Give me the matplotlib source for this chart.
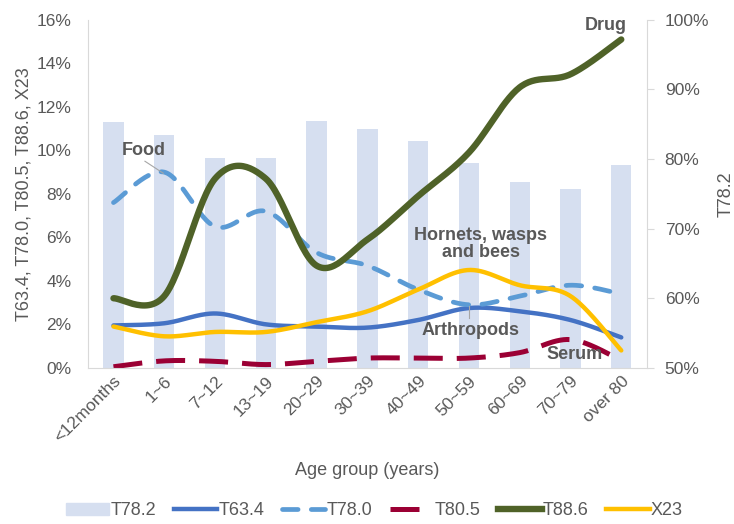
import numpy as np
import matplotlib.pyplot as plt
from matplotlib.patches import Patch
from matplotlib.lines import Line2D
from matplotlib.ticker import PercentFormatter

plt.rcParams['font.family'] = ['Liberation Sans', 'DejaVu Sans']

ages = ['<12months', '1~6', '7~12', '13~19', '20~29', '30~39',
        '40~49', '50~59', '60~69', '70~79', 'over 80']

# right axis (bars), percent
t782 = [85.3, 83.5, 80.2, 80.2, 85.5, 84.3, 82.6, 79.4, 76.7, 75.7, 79.2]

# left axis (lines), percent
t634 = [1.95, 2.05, 2.5, 2.0, 1.9, 1.85, 2.2, 2.75, 2.6, 2.2, 1.4]
t780 = [7.6, 9.0, 6.5, 7.2, 5.3, 4.7, 3.6, 2.9, 3.3, 3.8, 3.4]
t805 = [0.05, 0.32, 0.3, 0.15, 0.3, 0.45, 0.45, 0.45, 0.7, 1.3, 0.35]
t886 = [3.2, 3.3, 8.7, 8.7, 4.7, 5.9, 7.9, 9.9, 12.9, 13.5, 15.1]
x23 = [1.9, 1.45, 1.65, 1.65, 2.1, 2.6, 3.6, 4.5, 3.8, 3.3, 0.8]

GREY = '#595959'


def smooth(xs, ys, n=30):
    # cubic bezier through the points, control points from neighbours
    p = np.column_stack([xs, ys]).astype(float)
    p = np.vstack([p[0], p, p[-1]])
    out = []
    t = np.linspace(0, 1, n)[:, None]
    for i in range(1, len(p) - 2):
        p0, p1, p2, p3 = p[i], p[i + 1], p[i - 1], p[i + 2]
        c1 = p0 + (p1 - p2) / 6
        c2 = p1 - (p3 - p0) / 6
        seg = ((1 - t) ** 3) * p0 + 3 * ((1 - t) ** 2) * t * c1 \
            + 3 * (1 - t) * t ** 2 * c2 + t ** 3 * p1
        out.append(seg if i == 1 else seg[1:])
    out = np.vstack(out)
    return out[:, 0], out[:, 1]


fig = plt.figure(figsize=(7.34, 5.24), dpi=100)
ax = fig.add_axes([0.12, 0.298, 0.761, 0.664])
ax2 = ax.twinx()

x = np.arange(len(ages))
ax2.bar(x, t782, width=0.4, color='#D6DFF0', bottom=0)
ax2.set_ylim(50, 100)
ax2.yaxis.set_major_formatter(PercentFormatter(decimals=0))
ax2.set_yticks(np.arange(50, 101, 10))

ax.set_zorder(ax2.get_zorder() + 1)
ax.patch.set_visible(False)

# (values, colour, dashes, width, capstyle)
series = [
    (t634, '#4472C4', '-', 3.2, 'round'),
    (t780, '#5B9BD5', (0, (3.3, 2.8)), 3.4, 'round'),
    (t805, '#9B0034', (0, (5.8, 2.8)), 3.6, 'butt'),
    (t886, '#4F6228', '-', 4.6, 'round'),
    (x23, '#FFC000', '-', 3.2, 'round'),
]
for ys, c, ls, lw, cap in series:
    sx, sy = smooth(x, ys)
    ax.plot(sx, sy, color=c, linestyle=ls, linewidth=lw,
            solid_capstyle='round', dash_capstyle=cap)

ax.set_xlim(-0.5, len(ages) - 0.5)
ax.set_ylim(0, 16)
ax.set_yticks(np.arange(0, 17, 2))
ax.yaxis.set_major_formatter(PercentFormatter(decimals=0))
ax.set_xticks(x)
ax.set_xticklabels(ages, rotation=45, ha='right', rotation_mode='anchor')

for a in (ax, ax2):
    for s in a.spines.values():
        s.set_visible(False)
    a.tick_params(colors=GREY, labelsize=12.5, length=0)
ax.spines['left'].set_visible(True)
ax.spines['left'].set_color('#D9D9D9')
ax.spines['bottom'].set_visible(True)
ax.spines['bottom'].set_color('#D9D9D9')
ax2.spines['right'].set_visible(True)
ax2.spines['right'].set_color('#D9D9D9')
ax2.tick_params(axis='y', length=5, color='#D9D9D9', direction='out', pad=8)
ax.tick_params(axis='y', pad=12)
ax.tick_params(axis='x', labelsize=12.5, pad=4)

ax.set_ylabel('T63.4, T78.0, T80.5, T88.6, X23', color=GREY, fontsize=13, labelpad=3)
ax2.set_ylabel('T78.2', color=GREY, fontsize=13, labelpad=6)
ax.set_xlabel('Age group (years)', color=GREY, fontsize=13, labelpad=12)

# series names on the lines
bold = dict(color=GREY, fontsize=13, fontweight='bold')
ax.text(9.7, 15.35, 'Drug', ha='center', va='bottom', **bold)
ax.text(0.6, 10.0, 'Food', ha='center', va='center', **bold)
ax.plot([0.62, 0.98], [9.5, 8.95], color='#A6A6A6', lw=0.8)
ax.text(7.23, 5.7, 'Hornets, wasps\nand bees', ha='center', va='center',
        linespacing=1.05, **bold)
ax.text(7.03, 1.7, 'Arthropods', ha='center', va='center', **bold)
ax.plot([7.0, 7.0], [2.3, 2.85], color='#A6A6A6', lw=0.8)
ax.text(9.08, 0.6, 'Serum', ha='center', va='center', **bold)

handles = [Patch(color='#D6DFF0')] + [
    Line2D([], [], color=c, linestyle=ls, linewidth=lw, dash_capstyle=cap)
    for _, c, ls, lw, cap in series]
labels = ['T78.2', 'T63.4', 'T78.0', 'T80.5', 'T88.6', 'X23']
fig.legend(handles, labels, loc='lower center', bbox_to_anchor=(0.51, -0.022),
           ncol=6, frameon=False, handlelength=2.4, handletextpad=0.05,
           columnspacing=1.0, fontsize=13, labelcolor=GREY)

fig.savefig('out.png', dpi=100)
